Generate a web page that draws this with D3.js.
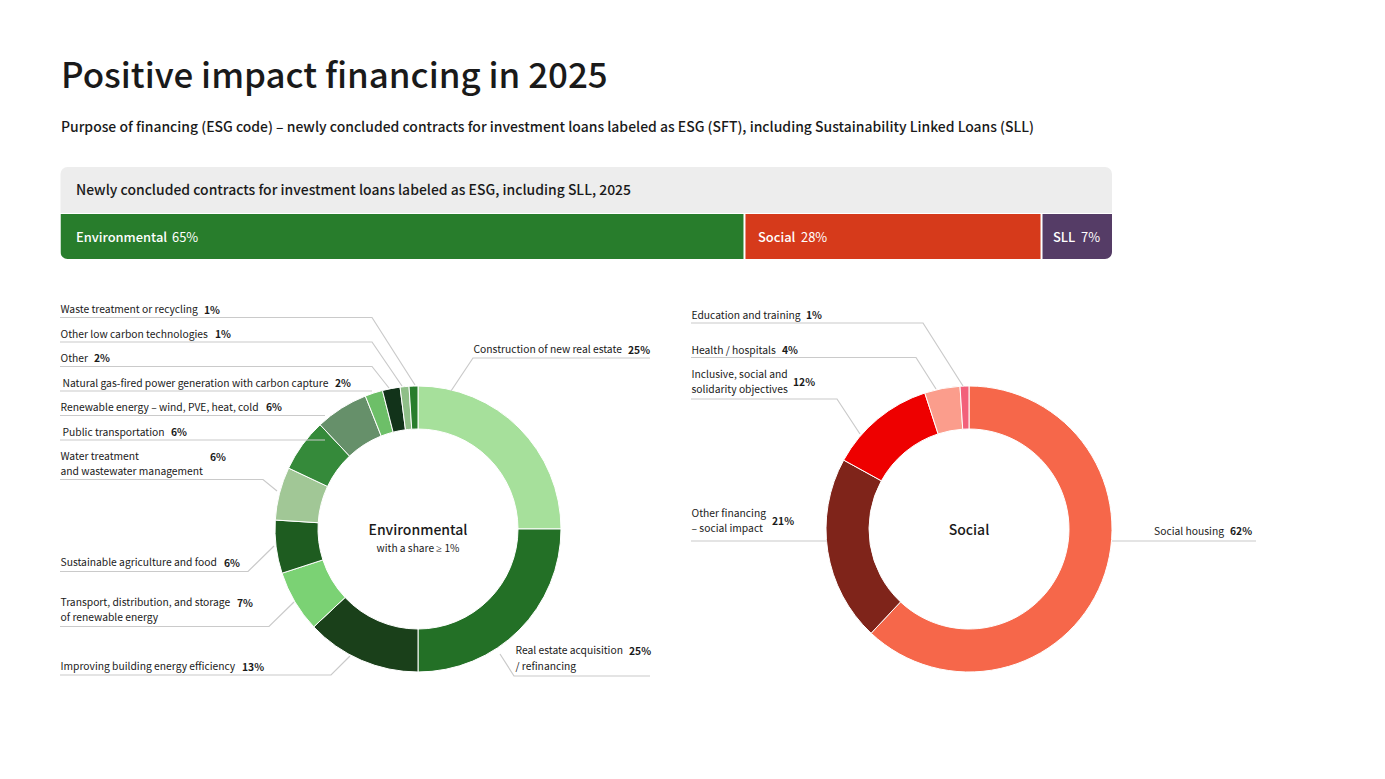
<!DOCTYPE html>
<html>
<head>
<meta charset="utf-8">
<script src="https://cdn.jsdelivr.net/npm/d3@7"></script>
<style>
    body { margin: 0; background: #fff; }
    svg text { font-family: "Noto Sans CJK SC", "Noto Sans", sans-serif; fill: #1a1a1a; }
</style>
</head>
<body>
<svg id="chart" width="1385" height="779"></svg>
<script>
const stackLabels = ['Environmental', 'Social', 'SLL'];
const stackValues = [65, 28.25, 6.75];
const stackColors = ['#287d2c', '#d63a1b', '#553c66'];

const envValues = [25, 25, 13, 7, 6, 6, 6, 6, 2, 2, 1, 1];
const envColors = ['#a6e09b', '#237026', '#1a401a', '#7bd274', '#1e5c20', '#a1c796', '#358a3a', '#66906a', '#6dbf68', '#12331a', '#8fbf88', '#287d2c'];

const socValues = [62, 21, 12, 4, 1];
const socColors = ['#f6674a', '#7f241a', '#ee0000', '#fb9d8c', '#f2607a'];

// callouts: text lines, percent position and leader polyline, per slice
const envCallouts = [
    { lines: ['Construction of new real estate'], x: 473.5, y: 353.3, px: 628, py: 353.5, line: [[650, 358], [473, 358], [451, 391]] },
    { lines: ['Real estate acquisition', '/ refinancing'], x: 515.5, y: 654.3, px: 629, py: 655, line: [[650, 676], [514, 676], [500, 654]] },
    { lines: ['Improving building energy efficiency'], x: 60.5, y: 669.5, px: 242, py: 670.5, line: [[60, 675], [331, 675], [350, 656]] },
    { lines: ['Transport, distribution, and storage', 'of renewable energy'], x: 60.5, y: 605.5, px: 237, py: 606.5, line: [[60, 626.5], [269, 626.5], [294, 602]] },
    { lines: ['Sustainable agriculture and food'], x: 60.5, y: 565.5, px: 224, py: 567, line: [[60, 571.5], [248, 571.5], [274, 546]] },
    { lines: ['Water treatment', 'and wastewater management'], x: 60.5, y: 459.5, px: 210, py: 460.5, line: [[60, 479.5], [263, 479.5], [277, 491]] },
    { lines: ['Public transportation'], x: 62.5, y: 435.5, px: 171, py: 435.5, line: [[60, 440], [325, 440]] },
    { lines: ['Renewable energy – wind, PVE, heat, cold'], x: 60.5, y: 410.5, px: 266, py: 410.5, line: [[60, 415.5], [325, 415.5]] },
    { lines: ['Natural gas-fired power generation with carbon capture'], x: 62.5, y: 386.5, px: 335, py: 386.5, line: [[60, 391], [372, 391]] },
    { lines: ['Other'], x: 60.5, y: 361.5, px: 94, py: 361.5, line: [[60, 366.5], [372, 366.5], [389, 388]] },
    { lines: ['Other low carbon technologies'], x: 60.5, y: 337.5, px: 215, py: 337.5, line: [[60, 342], [372, 342], [402, 386]] },
    { lines: ['Waste treatment or recycling'], x: 60.5, y: 313.3, px: 204, py: 313.5, line: [[60, 317.5], [372, 317.5], [415, 385]] }
];
const socCallouts = [
    { lines: ['Social housing'], x: 1154, y: 534.5, px: 1230, py: 534.5, line: [[1256, 541], [1112, 541]] },
    { lines: ['Other financing', '– social impact'], x: 691.5, y: 516.5, px: 772, py: 524.5, line: [[691, 541], [827, 541]] },
    { lines: ['Inclusive, social and', 'solidarity objectives'], x: 691.5, y: 377.5, px: 793, py: 385.5, line: [[691, 399], [837, 399], [860, 434]] },
    { lines: ['Health / hospitals'], x: 691.5, y: 353.5, px: 782, py: 353.5, line: [[691, 357.5], [916, 357.5], [936, 389]] },
    { lines: ['Education and training'], x: 691.5, y: 318.5, px: 806, py: 318.5, line: [[691, 323], [923, 323], [963, 386]] }
];

const svg = d3.select('#chart');

svg.append('text').attr('x', 61).attr('y', 88)
    .attr('font-size', 34.9).attr('font-weight', 500)
    .text('Positive impact financing in 2025');
svg.append('text').attr('x', 61).attr('y', 132)
    .attr('font-size', 13.95).attr('font-weight', 500)
    .text('Purpose of financing (ESG code) – newly concluded contracts for investment loans labeled as ESG (SFT), including Sustainability Linked Loans (SLL)');

// header band + 100% stacked bar
const barX = d3.scaleLinear().domain([0, 100]).range([60.5, 1112]);
svg.append('path').attr('fill', '#ededed')
    .attr('d', 'M60.5,213V174a7,7 0 0 1 7,-7H1105a7,7 0 0 1 7,7V213Z');
svg.append('text').attr('x', 76).attr('y', 195)
    .attr('font-size', 13.95).attr('font-weight', 500)
    .text('Newly concluded contracts for investment loans labeled as ESG, including SLL, 2025');

svg.append('defs').append('clipPath').attr('id', 'barClip').append('path')
    .attr('d', 'M60.5,214H1112V252a7,7 0 0 1 -7,7H67.5a7,7 0 0 1 -7,-7Z');

let cum = 0;
const stack = stackValues.map(v => { const d = { start: cum, end: cum + v }; cum += v; return d; });
const barG = svg.append('g').attr('clip-path', 'url(#barClip)');
// 2px white gap between the segments
barG.selectAll('rect').data(stack).enter().append('rect')
    .attr('x', (d, i) => barX(d.start) + (i > 0 ? 1.5 : 0)).attr('y', 214)
    .attr('width', (d, i) => barX(d.end) - barX(d.start) - (i > 0 ? 1.5 : 0) - (i < 2 ? 0.5 : 0)).attr('height', 45)
    .attr('fill', (d, i) => stackColors[i]);
const stackText = [[76, 172], [758, 801], [1053, 1081]];
stackLabels.forEach((name, i) => {
    const g = svg.append('g').attr('font-size', 12.9);
    g.append('text').attr('x', stackText[i][0]).attr('y', 241.5).attr('font-weight', 500).style('fill', '#fff').text(name);
    g.append('text').attr('x', stackText[i][1]).attr('y', 241.5).style('fill', '#fff').text(d3.format('.0f')(stackValues[i]) + '%');
});

function drawDonut(cx, cy, values, colors, callouts) {
    const pie = d3.pie().sort(null)(values);
    const arc = d3.arc().innerRadius(100).outerRadius(143);
    const g = svg.append('g').attr('transform', `translate(${cx},${cy})`);
    g.selectAll('path').data(pie).enter().append('path')
        .attr('d', arc)
        .attr('fill', (d, i) => colors[i])
        .attr('stroke', '#fff').attr('stroke-width', 1);

    const lineGen = d3.line();
    callouts.forEach((c, i) => {
        svg.append('path').attr('d', lineGen(c.line))
            .attr('fill', 'none').attr('stroke', '#cacaca').attr('stroke-width', 1.2);
        c.lines.forEach((t, j) => {
            svg.append('text').attr('x', c.x).attr('y', c.y + j * 15.5)
                .attr('font-size', 10.3).text(t);
        });
        svg.append('text').attr('x', c.px).attr('y', c.py)
            .attr('font-size', 10.3).attr('font-weight', 700).text(values[i] + '%');
    });
}

drawDonut(418, 529, envValues, envColors, envCallouts);
drawDonut(969, 529, socValues, socColors, socCallouts);

svg.append('text').attr('x', 418).attr('y', 534.5).attr('text-anchor', 'middle')
    .attr('font-size', 14).attr('font-weight', 500).text('Environmental');
const shareNote = svg.append('text').attr('x', 418).attr('y', 552).attr('text-anchor', 'middle')
    .attr('font-size', 10.2);
shareNote.append('tspan').text('with a share ');
shareNote.append('tspan').style('font-family', '"Noto Sans"').attr('font-size', 10.5).text('≥');
shareNote.append('tspan').text(' 1%');
svg.append('text').attr('x', 969).attr('y', 534.5).attr('text-anchor', 'middle')
    .attr('font-size', 14).attr('font-weight', 500).text('Social');
</script>
</body>
</html>
